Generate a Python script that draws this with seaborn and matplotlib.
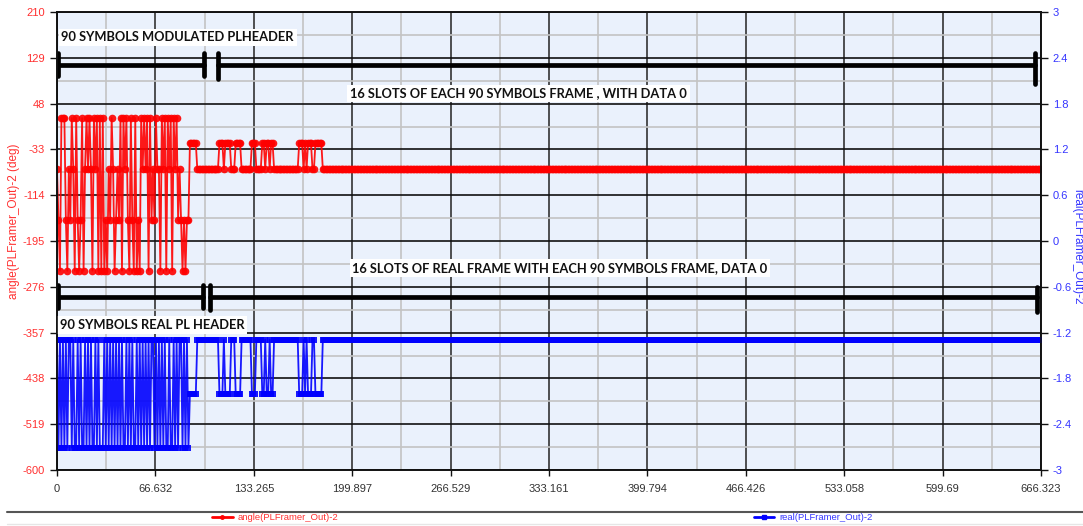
import numpy as np
import pandas as pd
import matplotlib
matplotlib.use("Agg")
import matplotlib.pyplot as plt
from matplotlib.lines import Line2D
import seaborn as sns

# ---- data -------------------------------------------------------------
x_max = 666.323
n_symbols = 667
x_tick_labels = ["0", "66.632", "133.265", "199.897", "266.529", "333.161",
                 "399.794", "466.426", "533.058", "599.69", "666.323"]

angle_ticks = [210, 129, 48, -33, -114, -195, -276, -357, -438, -519, -600]
real_ticks = [3, 2.4, 1.8, 1.2, 0.6, 0, -0.6, -1.2, -1.8, -2.4, -3]
real_tick_labels = ["3", "2.4", "1.8", "1.2", "0.6", "0", "-0.6", "-1.2",
                    "-1.8", "-2.4", "-3"]

# PL header angles (deg), 90 symbols
angle_header = [
    -67.5, -157.5, -247.5, 22.5, 22.5, 22.5, -157.5, -247.5, -67.5, -157.5,
    22.5, -67.5, -247.5, 22.5, -157.5, -247.5, -157.5, 22.5, -247.5, -67.5,
    22.5, -67.5, 22.5, -67.5, -247.5, 22.5, -67.5, 22.5, -247.5, 22.5,
    -247.5, 22.5, -247.5, -157.5, -247.5, -67.5, -157.5, 22.5, -67.5, -247.5,
    -157.5, -67.5, -157.5, 22.5, -247.5, 22.5, -67.5, 22.5, -157.5, -247.5,
    22.5, -157.5, -247.5, 22.5, -247.5, -157.5, -247.5, 22.5, -67.5, 22.5,
    -67.5, 22.5, -247.5, 22.5, -157.5, -67.5, -157.5, 22.5, -67.5, -67.5,
    -247.5, 22.5, -67.5, 22.5, -247.5, 22.5, -67.5, 22.5, -247.5, 22.5,
    -67.5, 22.5, -157.5, -67.5, -157.5, -247.5, -157.5, -247.5, -157.5, -157.5,
]

# PL header real part (offset by -2), 90 symbols
real_header = [
    -1.293, -2.707, -1.293, -2.707, -1.293, -2.707, -1.293, -2.707, -1.293, -1.293,
    -2.707, -1.293, -2.707, -2.707, -1.293, -2.707, -1.293, -2.707, -2.707, -1.293,
    -2.707, -1.293, -2.707, -1.293, -2.707, -2.707, -1.293, -2.707, -1.293, -2.707,
    -2.707, -2.707, -1.293, -2.707, -1.293, -2.707, -1.293, -2.707, -1.293, -2.707,
    -1.293, -2.707, -1.293, -2.707, -1.293, -2.707, -2.707, -1.293, -2.707, -1.293,
    -2.707, -1.293, -2.707, -2.707, -1.293, -2.707, -1.293, -2.707, -1.293, -2.707,
    -1.293, -2.707, -1.293, -2.707, -1.293, -1.293, -2.707, -1.293, -2.707, -1.293,
    -2.707, -1.293, -2.707, -1.293, -2.707, -2.707, -1.293, -2.707, -2.707, -1.293,
    -2.707, -1.293, -2.707, -1.293, -1.293, -2.707, -1.293, -2.707, -1.293, -2.707,
]

# data-slot symbols after the header
angle_data = -67.5
real_data = -1.293
angle_marked = -22.5
real_marked = -2.0
marked_symbols = [90, 91, 92, 93, 94, 110, 111, 112, 114, 115, 116, 117,
                  121, 122, 123, 124, 132, 133, 134, 139, 140, 142, 143,
                  145, 146, 164, 165, 166, 168, 170, 171, 172, 175, 176,
                  177, 178, 179]

# ---- assemble frame ---------------------------------------------------
angle = np.full(n_symbols, angle_data)
real = np.full(n_symbols, real_data)
angle[:len(angle_header)] = angle_header
real[:len(real_header)] = real_header
angle[marked_symbols] = angle_marked
real[marked_symbols] = real_marked
df = pd.DataFrame({"symbol": np.arange(n_symbols), "angle": angle, "real": real})

# ---- figure -----------------------------------------------------------
sns.set_style("white")
plt.rcParams['font.family'] = ['Liberation Sans', 'DejaVu Sans']

fig = plt.figure(figsize=(10.83, 5.26), dpi=100)
ax = fig.add_axes([57 / 1083, 1 - 470 / 526, (1041 - 57) / 1083, (470 - 12) / 526])
ax.set_facecolor("#eaf1fc")
ax2 = ax.twinx()
ax2.patch.set_visible(False)

red = "#ff0000"
blue = "#0000ff"

sns.lineplot(data=df, x="symbol", y="angle", ax=ax, color=red, linewidth=1.3,
             marker="o", markersize=5.5, markeredgewidth=0, estimator=None,
             sort=False, legend=False, alpha=0.9)
sns.lineplot(data=df, x="symbol", y="real", ax=ax2, color=blue, linewidth=1.3,
             marker="s", markersize=5.0, markeredgewidth=0, estimator=None,
             sort=False, legend=False, alpha=0.9)

# axes ranges and ticks
x_ticks = np.linspace(0, x_max, 11)
ax.set_xlim(0, x_max)
ax.set_xticks(x_ticks)
ax.set_xticklabels(x_tick_labels)
ax.set_xticks((x_ticks[:-1] + x_ticks[1:]) / 2, minor=True)
ax.set_ylim(-600, 210)
ax.set_yticks(angle_ticks)
ax.set_yticklabels([str(v) for v in angle_ticks])
ax.set_yticks([(a + b) / 2 for a, b in zip(angle_ticks[:-1], angle_ticks[1:])], minor=True)
ax2.set_ylim(-3, 3)
ax2.set_yticks(real_ticks)
ax2.set_yticklabels(real_tick_labels)

ax.grid(which="minor", color="#c3c3c3", linewidth=1.2, zorder=0)
ax.grid(which="major", axis="y", color="#111111", linewidth=1.2, zorder=0)
ax.grid(which="major", axis="x", color="#333333", linewidth=1.2, zorder=0)
ax.set_axisbelow(True)

ax.tick_params(axis="y", which="major", labelcolor="#ff3030", labelsize=8,
               length=5, width=1, color="#111111", direction="out", left=True)
ax.tick_params(axis="x", which="major", labelcolor="#333333", labelsize=8,
               length=4, width=1, color="#111111", direction="out", bottom=True, pad=6)
ax.tick_params(which="minor", length=0)
ax2.tick_params(axis="y", labelcolor="#3535ff", labelsize=8, length=5, width=1,
                color="#111111", direction="out", right=True)

for a in (ax, ax2):
    for s in a.spines.values():
        s.set_color("#111111")
        s.set_linewidth(1.2)

ax.set_xlabel("")
ax.set_ylabel("angle(PLFramer_Out)-2 (deg)", color="#ff3030", fontsize=8.5,
              va="center")
ax.yaxis.set_label_coords(-0.0437, 0.544)
ax2.set_ylabel("real(PLFramer_Out)-2", color="#3535ff", fontsize=8.5,
               rotation=270, va="center")
ax2.yaxis.set_label_coords(1.0365, 0.487)

# ---- frame structure brackets ----------------------------------------
bk = dict(color="black", linewidth=3.4, solid_capstyle="round", zorder=5)
# modulated header / slots
ax.plot([0.7, 99.5], [115.5, 115.5], **bk)
ax.plot([109, 662.5], [115.5, 115.5], **bk)
for xc, y0, y1 in [(0.7, 97, 138), (99.5, 97, 138), (109, 91, 138), (662.5, 82, 137)]:
    ax.plot([xc, xc], [y0, y1], **bk)
# real-part header / slots
ax.plot([0.7, 99.0], [-294, -294], **bk)
ax.plot([103.5, 663.5], [-294, -294], **bk)
for xc, y0, y1 in [(0.7, -313, -272), (99.0, -313, -272), (103.5, -317, -272), (663.5, -320, -276)]:
    ax.plot([xc, xc], [y0, y1], **bk)

txt = dict(fontsize=9.3, fontweight="bold", family=["Lato", "DejaVu Sans"], color="#111111",
           va="center", ha="left", zorder=6,
           bbox=dict(facecolor="white", edgecolor="none", pad=2.0))
ax.text(3.0, 165, "90 SYMBOLS MODULATED PLHEADER", **txt)
ax.text(198.5, 66, "16 SLOTS OF EACH 90 SYMBOLS FRAME , WITH DATA 0", **txt)
ax.text(200, -243, "16 SLOTS OF REAL FRAME WITH EACH 90 SYMBOLS FRAME, DATA 0", **txt)
ax.text(2.0, -344, "90 SYMBOLS REAL PL HEADER", **txt)

# ---- legend strip -----------------------------------------------------
fig.add_artist(Line2D([7 / 1083, 1], [1 - 511.5 / 526] * 2, color="#555555", linewidth=1.5))
fig.add_artist(Line2D([7 / 1083, 1], [1 - 524 / 526] * 2, color="#e6e6e6", linewidth=1.0))

h_red = Line2D([], [], color=red, linewidth=2, marker="o", markersize=2.5)
h_blue = Line2D([], [], color=blue, linewidth=2, marker="s", markersize=2.5)
leg_kw = dict(loc="center", frameon=False, fontsize=6.8, handlelength=2.2,
              handletextpad=0.5, numpoints=1, borderpad=0)
leg1 = fig.legend([h_red], ["angle(PLFramer_Out)-2"], bbox_to_anchor=(275 / 1083, 1 - 518 / 526), **leg_kw)
for t in leg1.get_texts():
    t.set_color("#ff3030")
leg2 = fig.legend([h_blue], ["real(PLFramer_Out)-2"], bbox_to_anchor=(813 / 1083, 1 - 518 / 526), **leg_kw)
for t in leg2.get_texts():
    t.set_color("#3535ff")

fig.savefig("out.png", dpi=100)
